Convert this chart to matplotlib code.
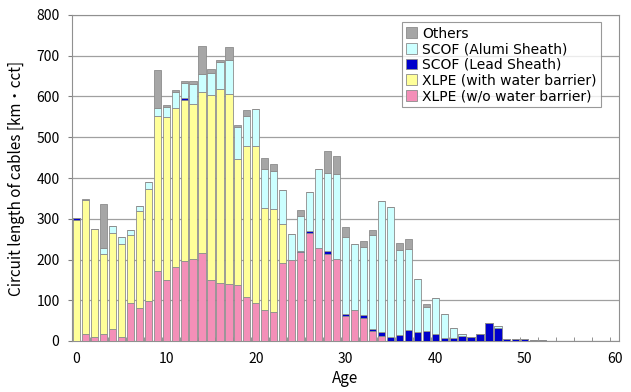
import numpy as np
import matplotlib
matplotlib.use("Agg")
import matplotlib.pyplot as plt

plt.rcParams['font.family'] = ['Noto Sans CJK JP', 'DejaVu Sans']

ages = np.arange(0, 53)

# XLPE (w/o water barrier)
xlpe_wo = [0, 18, 10, 16, 29, 10, 93, 82, 97, 172,
           150, 182, 196, 202, 217, 149, 143, 140, 137, 108,
           93, 75, 71, 192, 200, 218, 265, 227, 214, 202,
           62, 75, 56, 24, 12, 0, 0, 0, 0, 0,
           0, 0, 0, 0, 0, 0, 0, 0, 0, 0, 0, 0, 0]
# XLPE (with water barrier)
xlpe_with = [298, 327, 264, 197, 237, 229, 166, 237, 277, 380,
             400, 391, 396, 380, 394, 455, 476, 465, 309, 371,
             386, 252, 252, 94, 0, 0, 0, 0, 0, 0,
             0, 0, 0, 0, 0, 0, 0, 0, 0, 0,
             0, 0, 0, 0, 0, 0, 0, 0, 0, 0, 0, 0, 0]
# SCOF (Lead Sheath)
scof_lead = [3, 0, 2, 0, 0, 0, 0, 0, 0, 0,
             0, 0, 5, 0, 0, 0, 0, 0, 0, 0,
             0, 0, 0, 0, 0, 4, 4, 0, 7, 0,
             5, 0, 7, 6, 10, 11, 14, 28, 22, 25,
             18, 8, 8, 12, 11, 17, 45, 32, 6, 4, 4, 2, 2]
# SCOF (Alumi Sheath)
scof_alu = [0, 0, 0, 14, 15, 16, 14, 12, 16, 20,
            24, 38, 36, 49, 45, 53, 65, 85, 79, 72,
            91, 96, 94, 84, 63, 84, 97, 196, 191, 209,
            188, 164, 168, 229, 322, 318, 209, 197, 129, 58,
            88, 58, 24, 4, 0, 0, 0, 5, 0, 0, 0, 0, 0]
# Others
others = [0, 3, 0, 108, 0, 0, 0, 0, 0, 94,
          6, 6, 5, 7, 68, 11, 5, 31, 6, 17,
          0, 26, 18, 0, 0, 15, 0, 0, 54, 42,
          25, 0, 14, 13, 0, 0, 18, 26, 2, 8,
          0, 0, 0, 2, 0, 0, 0, 0, 0, 0, 0, 0, 0]

series = [
    ('XLPE (w/o water barrier)', xlpe_wo, '#F48FB8'),
    ('XLPE (with water barrier)', xlpe_with, '#FFFF99'),
    ('SCOF (Lead Sheath)', scof_lead, '#0000CC'),
    ('SCOF (Alumi Sheath)', scof_alu, '#CCFFFF'),
    ('Others', others, '#A6A6A6'),
]

fig = plt.figure(figsize=(6.31, 3.92), dpi=100)
ax = fig.add_axes([72 / 631, 1 - 341 / 392, 547 / 631, 326 / 392])

bottom = np.zeros(len(ages))
for name, vals, col in series:
    vals = np.array(vals, dtype=float)
    ax.bar(ages, vals, width=0.8, bottom=bottom, color=col,
           edgecolor='#8c8c8c', linewidth=0.6, label=name, zorder=3)
    bottom += vals

ax.set_xlim(-0.5, 60.5)
ax.set_ylim(0, 800)
ax.set_yticks(np.arange(0, 801, 100))
ax.set_xticks(np.arange(0, 61, 10))
ax.set_xticks(np.arange(-0.5, 61, 2), minor=True)
ax.tick_params(axis='x', which='major', length=0, pad=8, labelsize=10)
ax.tick_params(axis='x', which='minor', direction='in', length=3, color='#808080')
ax.tick_params(axis='y', length=3, color='#808080', labelsize=10, pad=6)
ax.grid(axis='y', color='#a0a0a0', linewidth=0.9, zorder=0)
for s in ax.spines.values():
    s.set_color('#909090')

ax.set_xlabel('Age', fontsize=11, labelpad=3)
ax.set_ylabel('Circuit length of cables [km・cct]', fontsize=11, labelpad=8)

h, l = ax.get_legend_handles_labels()
leg = ax.legend(h[::-1], l[::-1], loc='upper right', bbox_to_anchor=(0.975, 0.99),
                prop={'family': ['DejaVu Sans', 'Noto Sans CJK JP'], 'size': 10},
                frameon=True, fancybox=False, borderpad=0.3,
                labelspacing=0.12, handlelength=0.8, handleheight=0.8,
                handletextpad=0.4, borderaxespad=0.3)
leg.get_frame().set_edgecolor('#808080')
leg.get_frame().set_linewidth(0.8)
leg.set_zorder(5)

fig.savefig('out.png', dpi=100)
